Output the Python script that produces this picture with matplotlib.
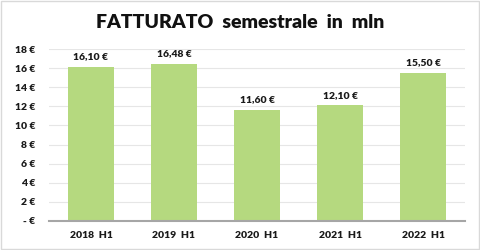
import matplotlib.pyplot as plt

# dati
periodi = ['2018  H1', '2019  H1', '2020  H1', '2021  H1', '2022  H1']
fatturato = [16.10, 16.48, 11.60, 12.10, 15.50]
etichette = ['16,10 €', '16,48 €', '11,60 €', '12,10 €', '15,50 €']
y_ticks = [0, 2, 4, 6, 8, 10, 12, 14, 16, 18]
y_labels = ['- €', '2 €', '4 €', '6 €', '8 €', '10 €', '12 €', '14 €', '16 €', '18 €']

plt.rcParams['font.family'] = ['Lato', 'DejaVu Sans']

fig = plt.figure(figsize=(4.8, 2.5), dpi=100)
fig.patches.append(plt.Rectangle((0.002, 0.004), 0.995, 0.992, transform=fig.transFigure,
                                 fill=False, edgecolor='#d9d9d9', linewidth=1))
ax = fig.add_axes([0.103, 0.116, 0.865, 0.688])

x = range(len(periodi))
bars = ax.bar(x, fatturato, width=0.55, color='#B5D97F', zorder=3)

for xi, v, lab in zip(x, fatturato, etichette):
    ax.text(xi, v + 0.6, lab, ha='center', va='bottom', fontsize=7.5, fontweight='heavy',
            color='#1a1a1a')

ax.set_xlim(-0.5, len(periodi) - 0.5)
ax.set_ylim(0, 18)
ax.set_yticks(y_ticks)
ax.set_yticklabels(y_labels)
ax.set_xticks(list(x))
ax.set_xticklabels(periodi)
ax.tick_params(axis='both', length=0, labelsize=7.5, colors='#1a1a1a')
for t in ax.get_xticklabels() + ax.get_yticklabels():
    t.set_fontweight('heavy')
ax.tick_params(axis='y', pad=10)
ax.tick_params(axis='x', pad=7)

ax.grid(axis='y', color='#e6e6e6', linewidth=0.8, zorder=0)
for s in ['top', 'right', 'left']:
    ax.spines[s].set_visible(False)
ax.spines['bottom'].set_color('#a6a6a6')
ax.spines['bottom'].set_linewidth(1.5)
ax.spines['bottom'].set_zorder(4)

fig.text(0.5, 0.91, 'FATTURATO  semestrale  in  mln', ha='center', va='center',
         fontsize=14, fontweight='heavy', color='#111111')

fig.savefig('out.png', dpi=100)
